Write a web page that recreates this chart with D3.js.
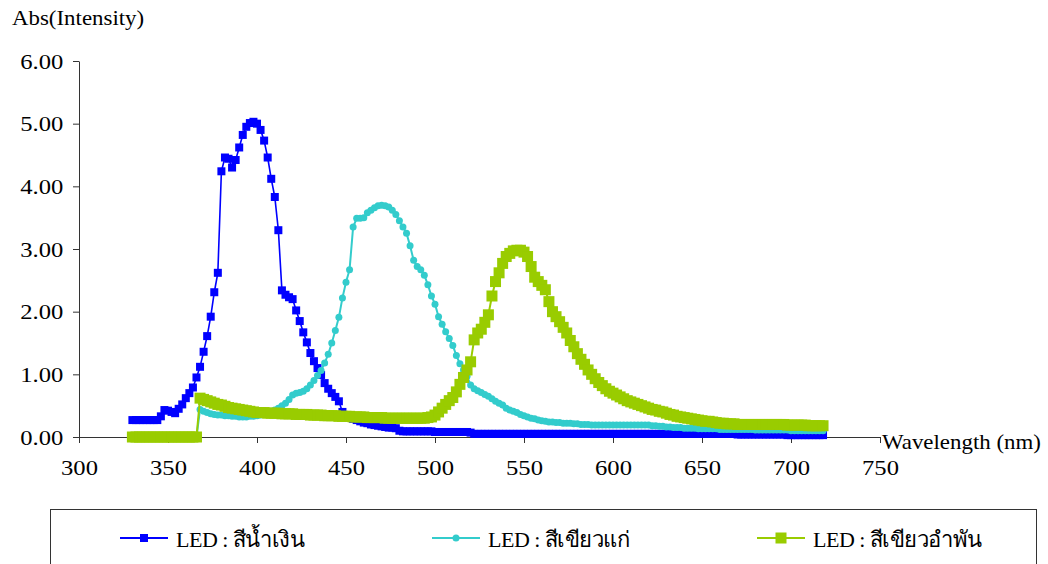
<!DOCTYPE html>
<meta charset="utf-8">
<style>
  body { margin: 0; background: #fff; }
  svg text { font-family: "Liberation Serif", "Times New Roman", serif; }
</style>

<!-- Load d3.js -->
<script src="https://d3js.org/d3.v7.min.js"></script>

<div id="my_dataviz"></div>

<script>

    // wavelength grid (nm)
    const wavelength = [
        330,332,334,336,338,340,342,344,346,348,
        350,352,354,356,358,360,362,364,366,368,
        370,372,374,376,378,380,382,384,386,388,
        390,392,394,396,398,400,402,404,406,408,
        410,412,414,416,418,420,422,424,426,428,
        430,432,434,436,438,440,442,444,446,448,
        450,452,454,456,458,460,462,464,466,468,
        470,472,474,476,478,480,482,484,486,488,
        490,492,494,496,498,500,502,504,506,508,
        510,512,514,516,518,520,522,524,526,528,
        530,532,534,536,538,540,542,544,546,548,
        550,552,554,556,558,560,562,564,566,568,
        570,572,574,576,578,580,582,584,586,588,
        590,592,594,596,598,600,602,604,606,608,
        610,612,614,616,618,620,622,624,626,628,
        630,632,634,636,638,640,642,644,646,648,
        650,652,654,656,658,660,662,664,666,668,
        670,672,674,676,678,680,682,684,686,688,
        690,692,694,696,698,700,702,704,706,708,
        710,712,714,716,718
    ];

    // LED : blue
    const blueLED = [
        0.27,0.27,0.27,0.27,0.27,0.27,0.27,0.27,0.33,0.43,
        0.42,0.40,0.38,0.45,0.52,0.62,0.70,0.79,0.95,1.12,
        1.36,1.61,1.92,2.31,2.62,4.24,4.46,4.44,4.30,4.42,
        4.62,4.82,4.95,5.01,5.03,5.00,4.90,4.73,4.46,4.12,
        3.83,3.30,2.34,2.27,2.23,2.20,2.02,1.85,1.67,1.51,
        1.34,1.21,1.10,0.99,0.86,0.77,0.70,0.64,0.57,0.40,
        0.33,0.31,0.29,0.27,0.25,0.23,0.22,0.20,0.19,0.18,
        0.17,0.16,0.15,0.15,0.14,0.10,0.09,0.09,0.09,0.09,
        0.09,0.09,0.09,0.09,0.09,0.08,0.08,0.08,0.08,0.08,
        0.08,0.08,0.08,0.08,0.08,0.07,0.05,0.05,0.05,0.05,
        0.05,0.05,0.05,0.05,0.05,0.05,0.05,0.05,0.05,0.05,
        0.05,0.05,0.05,0.05,0.05,0.05,0.05,0.05,0.05,0.05,
        0.05,0.05,0.05,0.05,0.05,0.05,0.05,0.05,0.05,0.05,
        0.05,0.05,0.05,0.05,0.05,0.05,0.05,0.05,0.05,0.05,
        0.05,0.05,0.05,0.05,0.05,0.05,0.05,0.05,0.05,0.05,
        0.05,0.05,0.05,0.05,0.05,0.05,0.05,0.05,0.05,0.05,
        0.05,0.05,0.05,0.05,0.05,0.05,0.05,0.05,0.05,0.05,
        0.04,0.04,0.04,0.04,0.04,0.04,0.04,0.04,0.04,0.04,
        0.04,0.04,0.04,0.04,0.03,0.03,0.03,0.03,0.03,0.03,
        0.03,0.03,0.03,0.03,0.03
    ];

    // LED : dark green (drawn cyan)
    const darkGreenLED = [
        0,0,0,0,0,0,0,0,0,0,
        0,0,0,0,0,0,0,0,0,0.44,
        0.41,0.39,0.37,0.36,0.35,0.35,0.34,0.34,0.33,0.33,
        0.32,0.32,0.32,0.33,0.33,0.34,0.35,0.37,0.39,0.41,
        0.43,0.46,0.50,0.54,0.60,0.67,0.70,0.71,0.73,0.77,
        0.83,0.90,0.98,1.06,1.18,1.32,1.50,1.70,1.91,2.22,
        2.47,2.67,3.35,3.49,3.49,3.50,3.58,3.62,3.66,3.69,
        3.70,3.69,3.67,3.62,3.55,3.45,3.35,3.25,3.05,2.82,
        2.72,2.67,2.58,2.43,2.25,2.12,1.92,1.80,1.68,1.57,
        1.46,1.30,1.17,1.07,0.97,0.83,0.77,0.74,0.71,0.68,
        0.65,0.61,0.57,0.54,0.51,0.46,0.43,0.41,0.39,0.36,
        0.34,0.32,0.30,0.29,0.27,0.26,0.25,0.24,0.24,0.23,
        0.23,0.22,0.22,0.22,0.21,0.21,0.20,0.20,0.20,0.19,
        0.19,0.19,0.19,0.19,0.19,0.19,0.19,0.19,0.19,0.19,
        0.19,0.19,0.19,0.19,0.19,0.19,0.18,0.18,0.17,0.17,
        0.16,0.16,0.15,0.15,0.15,0.14,0.14,0.14,0.14,0.13,
        0.13,0.13,0.13,0.13,0.13,0.12,0.12,0.12,0.12,0.12,
        0.12,0.12,0.12,0.12,0.12,0.11,0.11,0.11,0.11,0.11,
        0.11,0.11,0.11,0.11,0.11,0.10,0.10,0.10,0.10,0.10,
        0.10,0.10,0.10,0.10,0.10
    ];

    // LED : amber green
    const amberGreenLED = [
        0,0,0,0,0,0,0,0,0,0,
        0,0,0,0,0,0,0,0,0,0.62,
        0.60,0.58,0.56,0.54,0.52,0.51,0.49,0.47,0.46,0.45,
        0.44,0.43,0.42,0.41,0.40,0.39,0.39,0.39,0.38,0.38,
        0.38,0.38,0.37,0.37,0.37,0.37,0.36,0.36,0.36,0.36,
        0.35,0.35,0.35,0.35,0.34,0.34,0.34,0.34,0.33,0.33,
        0.33,0.33,0.32,0.32,0.32,0.32,0.31,0.31,0.31,0.31,
        0.31,0.30,0.30,0.30,0.30,0.30,0.30,0.30,0.30,0.30,
        0.30,0.30,0.30,0.31,0.32,0.35,0.40,0.46,0.52,0.58,
        0.63,0.72,0.84,0.95,1.07,1.20,1.55,1.66,1.72,1.83,
        1.95,2.25,2.48,2.62,2.77,2.88,2.93,2.97,2.98,2.98,
        2.95,2.88,2.72,2.55,2.48,2.42,2.35,2.16,2.00,1.92,
        1.84,1.75,1.66,1.54,1.44,1.33,1.24,1.16,1.07,1.00,
        0.93,0.87,0.82,0.77,0.73,0.70,0.67,0.64,0.61,0.58,
        0.56,0.54,0.52,0.50,0.48,0.46,0.44,0.43,0.41,0.40,
        0.38,0.36,0.35,0.33,0.32,0.31,0.30,0.29,0.28,0.27,
        0.26,0.25,0.25,0.24,0.23,0.22,0.22,0.21,0.21,0.21,
        0.20,0.20,0.20,0.20,0.20,0.20,0.20,0.20,0.20,0.20,
        0.20,0.20,0.20,0.20,0.19,0.19,0.19,0.19,0.19,0.19,
        0.18,0.18,0.18,0.18,0.18
    ];

    const seriesNames = ["LED : สีน้ำเงิน", "LED : สีเขียวแก่", "LED : สีเขียวอำพัน"];
    const xTicks = [300, 350, 400, 450, 500, 550, 600, 650, 700, 750];
    const yTicks = [0, 1, 2, 3, 4, 5, 6];

    const W = 1048, H = 564;
    const serifFace = "Liberation Serif";

    const svg = d3.select("#my_dataviz")
        .append("svg")
        .attr("width", W)
        .attr("height", H);

    // scales
    const x = d3.scaleLinear().domain([300, 750]).range([79, 880]);
    const y = d3.scaleLinear().domain([0, 6]).range([437, 61]);

    // Y axis
    const gy = svg.append("g")
        .attr("transform", "translate(79,0)")
        .call(d3.axisLeft(y).tickValues(yTicks).tickFormat(d3.format(".2f"))
            .tickSize(6).tickSizeOuter(0).tickPadding(8));

    // X axis
    const gx = svg.append("g")
        .attr("transform", "translate(0,437)")
        .call(d3.axisBottom(x).tickValues(xTicks)
            .tickSize(6).tickSizeOuter(0).tickPadding(16));

    [gx, gy].forEach(g => {
        g.attr("font-size", 22).attr("font-family", serifFace);
        g.select(".domain").attr("stroke", "#333");
        g.selectAll(".tick line").attr("stroke", "#333");
        g.selectAll(".tick text")
            .style("font-family", serifFace)
            .attr("fill", "#000")
            .attr("transform", "scale(1.12,1)");
    });

    // axis titles
    svg.append("text")
        .attr("transform", "translate(12,25) scale(1.09,1)")
        .style("font-family", serifFace)
        .attr("font-size", 21)
        .text("Abs(Intensity)");
    svg.append("text")
        .attr("transform", "translate(882,449) scale(1.09,1)")
        .style("font-family", serifFace)
        .attr("font-size", 21)
        .text("Wavelength (nm)");

    const series = [
        {name: seriesNames[0], values: blueLED, color: "#0000FF", shape: "square", size: 8, width: 1.6},
        {name: seriesNames[1], values: darkGreenLED, color: "#33CCCC", shape: "circle", size: 7, width: 2},
        {name: seriesNames[2], values: amberGreenLED, color: "#99CC00", shape: "square", size: 11, width: 2}
    ];

    const line = d3.line()
        .x((d, i) => x(wavelength[i]))
        .y(d => y(d));

    function drawMarker(g, s, cx, cy) {
        if (s.shape === "circle") {
            g.append("circle").attr("cx", cx).attr("cy", cy).attr("r", s.size / 2)
                .attr("fill", s.color);
        } else {
            g.append("rect").attr("x", cx - s.size / 2).attr("y", cy - s.size / 2)
                .attr("width", s.size).attr("height", s.size).attr("fill", s.color);
        }
    }

    series.forEach(s => {
        const g = svg.append("g");
        g.append("path")
            .datum(s.values)
            .attr("fill", "none")
            .attr("stroke", s.color)
            .attr("stroke-width", s.width)
            .attr("d", line);
        s.values.forEach((v, i) => drawMarker(g, s, x(wavelength[i]), y(v)));
    });

    // legend
    const legend = svg.append("g");
    legend.append("rect")
        .attr("x", 50.5).attr("y", 509.5)
        .attr("width", 986).attr("height", 80)
        .attr("fill", "none").attr("stroke", "#333");

    const legendX = [120, 432, 757];
    series.forEach((s, i) => {
        const lx = legendX[i], ly = 538;
        legend.append("line")
            .attr("x1", lx).attr("x2", lx + 48)
            .attr("y1", ly).attr("y2", ly)
            .attr("stroke", s.color).attr("stroke-width", 2);
        drawMarker(legend, s, lx + 24, ly);
        legend.append("text")
            .attr("x", lx + 56).attr("y", ly + 9)
            .style("font-family", serifFace)
            .attr("font-size", 22)
            .attr("letter-spacing", -0.5)
            .text(s.name);
    });

</script>
